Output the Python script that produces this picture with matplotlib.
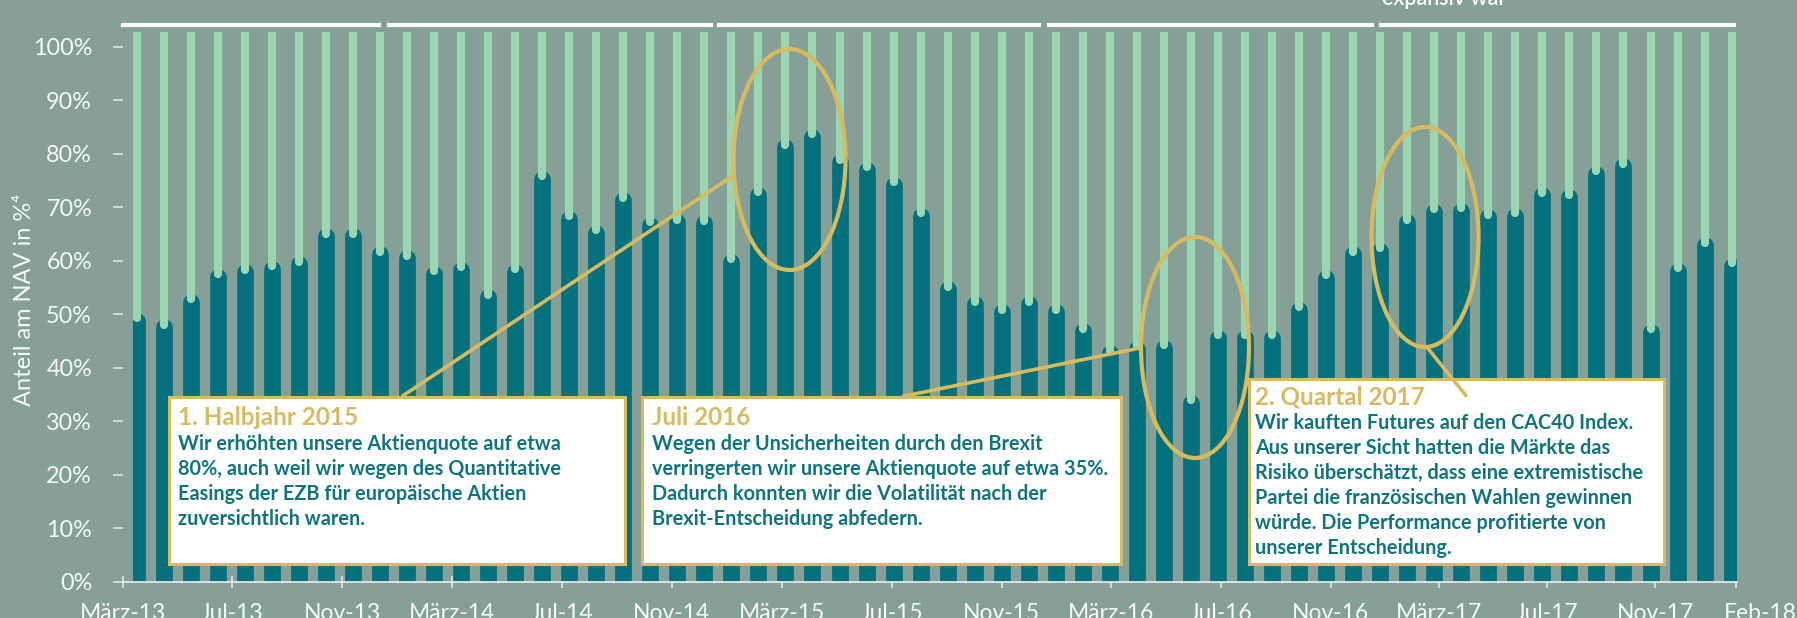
import matplotlib.pyplot as plt
from matplotlib.patches import Ellipse, Rectangle
from matplotlib.lines import Line2D
from matplotlib.transforms import ScaledTranslation

# Data: equity quota (share of NAV, %) per month, März-13 .. Feb-18
equity = [50.3, 49.1, 53.9, 58.6, 59.4, 60.1, 60.9, 66.1, 66.1, 62.75,
          62.0, 59.1, 59.9, 54.7, 59.5, 76.9, 69.4, 66.75, 72.9, 68.25,
          68.75, 68.6, 61.4, 73.9, 82.8, 84.7, 80.0, 78.6, 75.75, 70.0,
          56.25, 53.4, 51.9, 53.4, 51.9, 48.4, 44.3, 45.1, 45.3, 35.0,
          47.2, 47.2, 47.2, 52.4, 58.4, 62.8, 63.4, 68.75, 70.75, 70.9,
          69.7, 70.0, 73.75, 73.4, 77.8, 79.25, 48.25, 59.7, 64.5, 60.6]
tick_months = [0, 4, 8, 12, 16, 20, 24, 28, 32, 36, 40, 44, 48, 52, 56, 59]
tick_labels = ["März-13", "Jul-13", "Nov-13", "März-14", "Jul-14", "Nov-14",
               "März-15", "Jul-15", "Nov-15", "März-16", "Jul-16", "Nov-16",
               "März-17", "Jul-17", "Nov-17", "Feb-18"]
y_ticks = [0, 10, 20, 30, 40, 50, 60, 70, 80, 90, 100]

notes = [
    ("1. Halbjahr 2015",
     ["Wir erhöhten unsere Aktienquote auf etwa",
      "80%, auch weil wir wegen des Quantitative",
      "Easings der EZB für europäische Aktien",
      "zuversichtlich waren."]),
    ("Juli 2016",
     ["Wegen der Unsicherheiten durch den Brexit",
      "verringerten wir unsere Aktienquote auf etwa 35%.",
      "Dadurch konnten wir die Volatilität nach der",
      "Brexit-Entscheidung abfedern."]),
    ("2. Quartal 2017",
     ["Wir kauften Futures auf den CAC40 Index.",
      "Aus unserer Sicht hatten die Märkte das",
      "Risiko überschätzt, dass eine extremistische",
      "Partei die französischen Wahlen gewinnen",
      "würde. Die Performance profitierte von",
      "unserer Entscheidung."]),
]

# colours
BG = "#86A098"
DARK = "#02717D"
LIGHT = "#9BD6B2"
GOLD = "#D9BA5F"
TXT = "#0D7480"
WHITE = "#F7F8F7"

W, H = 1797, 618
plt.rcParams["font.family"] = ["Lato", "DejaVu Sans"]


def fx(x):
    return x / W


def fy(y):
    return 1 - y / H


fig = plt.figure(figsize=(W / 100, H / 100), dpi=100, facecolor=BG)
x_left, x_right = -0.52, 59.21
y_top = 102.7
ax = fig.add_axes([fx(122.6), fy(581.7), fx(1737.3) - fx(122.6), fy(32.25) - fy(581.7)])
ax.set_facecolor(BG)
ax.set_xlim(x_left, x_right)
ax.set_ylim(0, y_top)

# bar geometry in pixels -> data units
px_y = (581.7 - 32.25) / y_top
dark_w, light_w = 16.7, 8.2  # px
pt = 72 / 100

xs = list(range(len(equity)))
dark_end = [v - (dark_w / 2) / px_y for v in equity]
light_start = [v - 10 / px_y + (light_w / 2) / px_y for v in equity]
clip = Rectangle((-0.125, 0), x_right + 0.125, y_top, transform=ax.transData)
dk = ax.vlines(xs, -5, dark_end, colors=DARK, linewidth=dark_w * pt)
lt = ax.vlines(xs, light_start, y_top + 5, colors=LIGHT, linewidth=light_w * pt)
for c in (dk, lt):
    c.set_capstyle("round")
    c.set_clip_path(clip)

for s in ["top", "right", "left"]:
    ax.spines[s].set_visible(False)
ax.spines["bottom"].set_color("#E3E8E6")
ax.spines["bottom"].set_linewidth(1.3)
ax.spines["bottom"].set_zorder(5)

ax.set_yticks(y_ticks)
ax.set_yticklabels([f"{t}%" for t in y_ticks])
ax.tick_params(axis="y", length=7, width=1.2, color="#DDE3E0", pad=15,
               labelsize=16.8, labelcolor=WHITE)
tick_pos = [i - 0.52 + min(0.016 * i, 0.7) for i in tick_months]
ax.set_xticks(tick_pos)
ax.set_xticklabels(tick_labels)
ax.tick_params(axis="x", direction="inout", length=8, width=1.2, color="#E3E8E6",
               pad=11, labelsize=16.5, labelcolor=WHITE)
last = ax.get_xticklabels()[-1]
last.set_horizontalalignment("left")
last.set_transform(last.get_transform() + ScaledTranslation(-0.13, 0, fig.dpi_scale_trans))

fig.text(fx(25), fy(300), "Anteil am NAV in %⁴", rotation=90, ha="center", va="center",
         fontsize=17, color=WHITE)

# year brackets on top
for x0, x1 in [(122.6, 379.3), (388.5, 710.5), (718.5, 1039.4), (1048.6, 1371.7), (1381, 1734)]:
    fig.add_artist(Line2D([fx(x0), fx(x1)], [fy(24.7), fy(24.7)], color="white", lw=3.0))
fig.text(fx(1381.5), fy(5), "expansiv war", color="white", fontsize=15.5,
         fontweight="semibold", ha="left", va="baseline")

# highlight ellipses
for cx, cy, ew, eh in [(789.5, 159.5, 112, 221), (1195, 347.5, 108, 221), (1425, 237, 107, 220)]:
    fig.add_artist(Ellipse((fx(cx), fy(cy)), ew / W, eh / H, fill=False,
                           edgecolor=GOLD, lw=3.0, zorder=6))

# annotation boxes
boxes = [(168.5, 396.5, 624.6, 564.0, 178, 425), (641.8, 396.5, 1121, 564.0, 652, 425),
         (1249, 379.3, 1664, 564.0, 1255, 404)]
for (x0, y0, x1, y1, tx, ty), (title, lines) in zip(boxes, notes):
    fig.add_artist(Rectangle((fx(x0), fy(y1)), fx(x1) - fx(x0), fy(y0) - fy(y1),
                             facecolor="white", edgecolor=GOLD, lw=2.2, zorder=7))
    fig.text(fx(tx), fy(ty), title, color=GOLD, fontsize=17.5, fontweight="bold",
             va="baseline", zorder=8)
    for k, line in enumerate(lines):
        fig.text(fx(tx), fy(ty + 25 * (k + 1)), line, color=TXT, fontsize=14.3,
                 fontweight="bold", va="baseline", zorder=8)

# connectors
for (x0, y0), (x1, y1) in [((401.8, 396.5), (734, 175)), ((902, 396.5), (1140, 348)),
                           ((1426.6, 346.7), (1466.8, 396.7))]:
    fig.add_artist(Line2D([fx(x0), fx(x1)], [fy(y0), fy(y1)], color=GOLD, lw=2.6,
                          zorder=9, solid_capstyle="butt"))

fig.savefig("out.png", dpi=100, facecolor=BG)
